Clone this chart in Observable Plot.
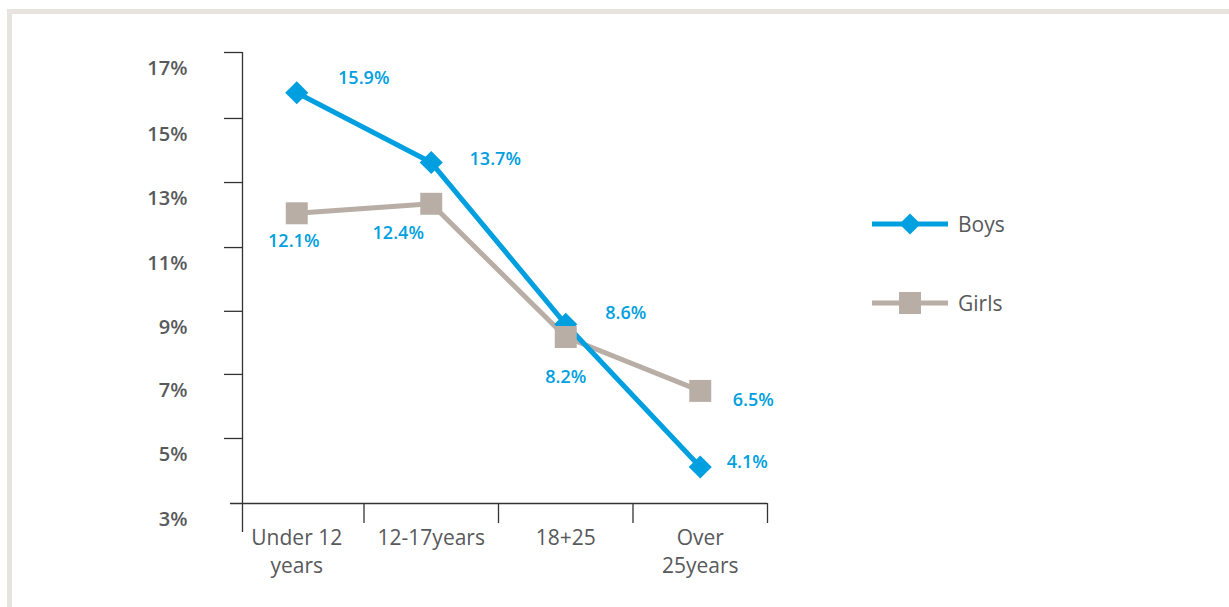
<!DOCTYPE html>
<html>
<head>
<meta charset="utf-8">
<script src="https://cdn.jsdelivr.net/npm/d3@7"></script>
<script src="https://cdn.jsdelivr.net/npm/@observablehq/plot@0.6"></script>
<style>
  body { margin: 0; background: #fff; }
  #wrap { position: relative; width: 1229px; height: 607px; overflow: hidden; font-family: "Open Sans", "Noto Sans", sans-serif; }
  #chart { position: absolute; left: 0; top: 0; }
  #frame { position: absolute; left: 7px; top: 9px; width: 1400px; height: 800px;
           border-left: 5px solid #e7e4e0; border-top: 5px solid #e7e4e0; pointer-events: none; }
  .legend-item { position: absolute; left: 872px; height: 30px; display: flex; align-items: center; }
  .legend-item span { margin-left: 10px; font-size: 21px; color: #58595b; }
</style>
</head>
<body>
<div id="wrap">
  <div id="chart"></div>
  <div id="frame"></div>
  <div id="legend"></div>
</div>
<script>
// ---- data ----
const categories = ["Under 12\nyears", "12-17years", "18+25", "Over\n25years"];
const seriesNames = ["Boys", "Girls"];
const boys = [15.9, 13.7, 8.6, 4.1];
const girls = [12.1, 12.4, 8.2, 6.5];
const yTickValues = [17.17, 15.09, 13.07, 11.02, 9.01, 7.02, 5.00, 2.95];
const yTickLabels = ["17%", "15%", "13%", "11%", "9%", "7%", "5%", "3%"];
const yDomain = [2.95, 17.17];

// ---- styles ----
const boysColor = "#009fe0";
const girlsColor = "#b8aea5";
const axisColor = "#333333";
const textColor = "#58595b";

const boysRows = boys.map((v, i) => ({i, v, label: v.toFixed(1) + "%"}));
const girlsRows = girls.map((v, i) => ({i, v, label: v.toFixed(1) + "%"}));
const boundaries = categories.map((c, i) => i + 0.5);

// label offsets (layout only)
const boysOff = [[67, -15], [64, -3], [60, -11], [47, -5]];
const girlsOff = [[-3, 28], [-33, 29], [0, 40], [53, 9]];

const labelStyle = {fontSize: 18, fontWeight: 600, fill: boysColor, textAnchor: "middle"};

const chart = Plot.plot({
  width: 1229,
  height: 607,
  marginLeft: 229,
  marginRight: 462,
  marginTop: 52,
  marginBottom: 104,
  x: {type: "linear", domain: [-0.5, categories.length - 0.5], axis: null},
  y: {domain: yDomain, axis: null},
  style: {background: "transparent", overflow: "visible", fontFamily: "'Open Sans', 'Noto Sans', sans-serif"},
  marks: [
    // x axis line
    Plot.ruleY([yDomain[0]], {x1: -0.5, x2: categories.length - 0.5, insetLeft: 1, stroke: axisColor, strokeWidth: 1.3}),
    // y axis line
    Plot.ruleX([-0.5], {dx: 13, insetBottom: -29, stroke: axisColor, strokeWidth: 1.3}),
    // y ticks
    Plot.ruleY(yTickValues.slice(0, -1), {x1: -0.5, x2: -0.5, insetLeft: -5, insetRight: -13, stroke: axisColor, strokeWidth: 1.3}),
    // x ticks at category boundaries
    Plot.ruleX(boundaries, {y1: yDomain[0], y2: yDomain[0], insetBottom: -20, stroke: axisColor, strokeWidth: 1.3}),
    // y tick labels
    Plot.text(yTickValues, {x: -0.5, y: d => d, text: (d, i) => yTickLabels[i], dx: -42, dy: 16,
      textAnchor: "end", fontSize: 20, fontWeight: 600, fill: textColor}),
    // category labels
    Plot.text(categories, {x: (d, i) => i, y: yDomain[0], text: d => d, dy: 21, lineAnchor: "top",
      lineHeight: 1.35, fontSize: 21, fill: textColor}),
    // lines
    Plot.line(girlsRows, {x: "i", y: "v", stroke: girlsColor, strokeWidth: 5}),
    Plot.line(boysRows, {x: "i", y: "v", stroke: boysColor, strokeWidth: 5}),
    // markers
    Plot.dot(boysRows, {x: "i", y: "v", symbol: "diamond2", r: 10.4, fill: boysColor, stroke: null}),
    Plot.dot(girlsRows, {x: "i", y: "v", symbol: "square", r: 12.4, fill: girlsColor, stroke: null}),
    // value labels
    ...boysRows.map((d, k) => Plot.text([d], {x: "i", y: "v", text: "label", dx: boysOff[k][0], dy: boysOff[k][1], ...labelStyle})),
    ...girlsRows.map((d, k) => Plot.text([d], {x: "i", y: "v", text: "label", dx: girlsOff[k][0], dy: girlsOff[k][1], ...labelStyle}))
  ]
});
document.getElementById("chart").appendChild(chart);

// ---- legend ----
const legend = document.getElementById("legend");
const legendTops = [209, 288];
const legendColors = [boysColor, girlsColor];
seriesNames.forEach((name, k) => {
  const item = document.createElement("div");
  item.className = "legend-item";
  item.style.top = legendTops[k] + "px";
  const marker = k === 0
    ? `<rect x="30.5" y="7.5" width="15" height="15" transform="rotate(45 38 15)" fill="${legendColors[k]}"/>`
    : `<rect x="27" y="4" width="22" height="22" fill="${legendColors[k]}"/>`;
  item.innerHTML = `<svg width="76" height="30"><line x1="0" x2="76" y1="15" y2="15" stroke="${legendColors[k]}" stroke-width="5"/>${marker}</svg><span>${name}</span>`;
  legend.appendChild(item);
});
</script>
</body>
</html>
